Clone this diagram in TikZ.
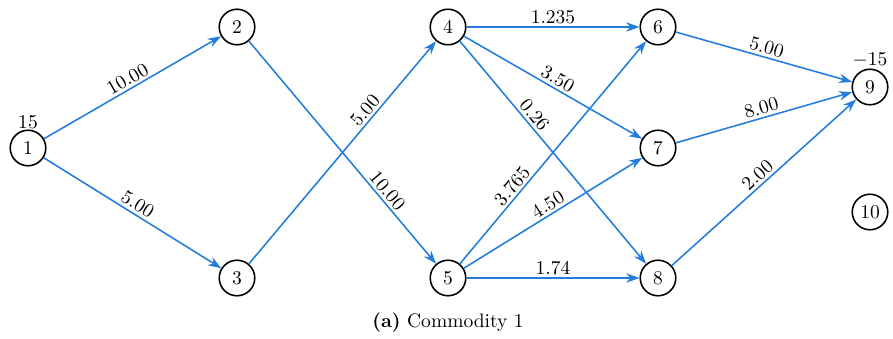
\documentclass[tikz,border=0pt]{standalone}
\usepackage{tikz}
\usetikzlibrary{arrows.meta,positioning}
\definecolor{flowblue}{RGB}{35,125,220}

\begin{document}
\begin{tikzpicture}[
    x=0.018cm, y=-0.018cm,
    vertex/.style={circle, draw, thick, minimum size=0.64cm, inner sep=0pt},
    arc/.style={-{Stealth[length=2.4mm,width=1.7mm,inset=0.8mm]}, draw=flowblue, thick},
    flow/.style={sloped, above, text=black, inner sep=1.2pt},
    supply/.style={inner sep=0.5pt}
]
    \useasboundingbox (0,0) rectangle (893,338);

    % vertices
    \node[vertex, label={[supply]above:$15$}] (n1) at (28,148) {1};
    \node[vertex] (n2) at (237,27) {2};
    \node[vertex] (n3) at (237,278) {3};
    \node[vertex] (n4) at (448,27) {4};
    \node[vertex] (n5) at (448,278) {5};
    \node[vertex] (n6) at (658,27) {6};
    \node[vertex] (n7) at (658,148) {7};
    \node[vertex] (n8) at (658,278) {8};
    \node[vertex, label={[supply]above:$-15$}] (n9) at (870,87) {9};
    \node[vertex] (n10) at (870,212) {10};

    % arcs with flow values
    \draw[arc] (n1) -- node[flow] {10.00} (n2);
    \draw[arc] (n1) -- node[flow] {5.00} (n3);
    \draw[arc] (n2) -- node[flow, pos=0.7] {10.00} (n5);
    \draw[arc] (n3) -- node[flow, pos=0.66] {5.00} (n4);
    \draw[arc] (n4) -- node[flow] {1.235} (n6);
    \draw[arc] (n4) -- node[flow] {3.50} (n7);
    \draw[arc] (n4) -- node[flow, pos=0.36] {0.26} (n8);
    \draw[arc] (n5) -- node[flow, pos=0.32] {3.765} (n6);
    \draw[arc] (n5) -- node[flow] {4.50} (n7);
    \draw[arc] (n5) -- node[flow] {1.74} (n8);
    \draw[arc] (n6) -- node[flow] {5.00} (n9);
    \draw[arc] (n7) -- node[flow] {8.00} (n9);
    \draw[arc] (n8) -- node[flow] {2.00} (n9);

    % caption
    \node (cap) at (448,323) {\textbf{(a)} Commodity 1};
\end{tikzpicture}
\end{document}
